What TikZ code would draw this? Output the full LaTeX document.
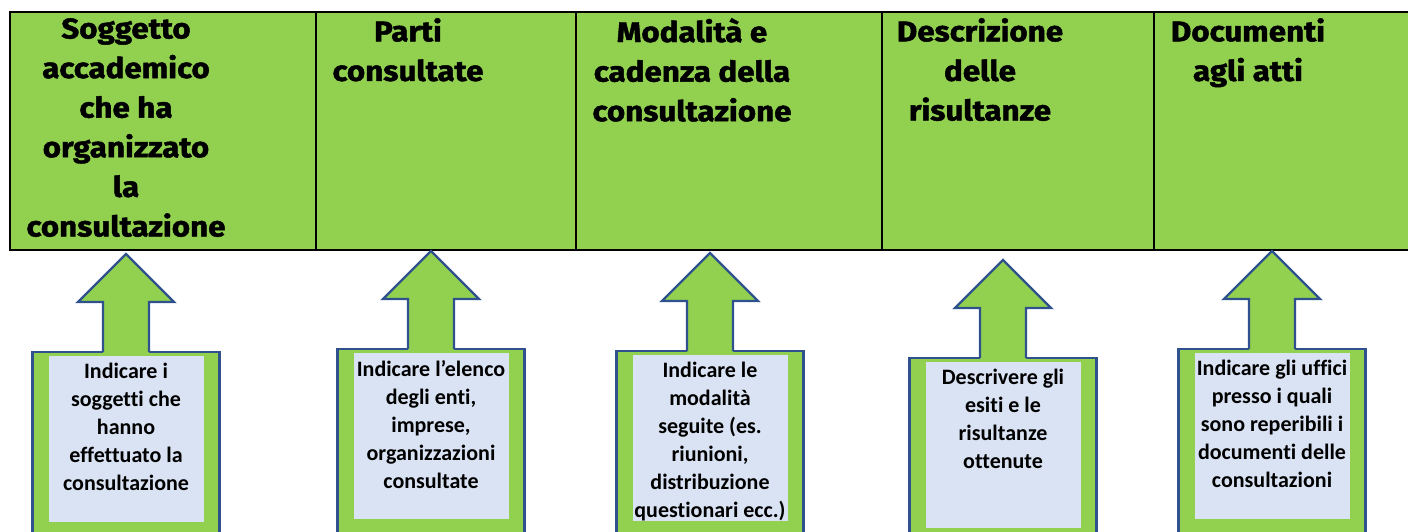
\documentclass[tikz,border=0pt]{standalone}
\usepackage{fontspec}
\setmainfont{Carlito}[Ligatures=NoCommon]
\newfontfamily\headfont[FakeStretch=1.1, BoldFeatures={FakeBold=1.6}]{Fira Sans}
\usetikzlibrary{positioning,calc}
\definecolor{cellgreen}{HTML}{92D050}
\definecolor{edgeblue}{HTML}{2F528F}
\definecolor{noteblue}{HTML}{DAE3F3}
\tikzset{
  cell/.style={draw=black, line width=2.5pt, fill=cellgreen, minimum height=238pt, inner sep=0pt, outer sep=0pt},
  head/.style={font=\headfont\bfseries\fontsize{28.5}{39.6}\selectfont, align=center, inner sep=0pt, anchor=north},
  callout/.style={draw=edgeblue, line width=2.4pt, fill=cellgreen, minimum width=187pt, minimum height=200pt, inner sep=0pt, outer sep=0pt, anchor=north},
  note/.style={fill=noteblue, minimum width=155pt, minimum height=166pt, inner sep=0pt, anchor=north},
  notetext/.style={font=\bfseries\fontsize{22}{28}\selectfont, align=center, inner sep=0pt},
  shaft/.style={draw=edgeblue, line width=2.4pt, line join=miter},
}
% up arrow sitting on top of a callout box
\newcommand{\uparrowon}[1]{%
  \fill[cellgreen] ($(#1.north)+(-23,3)$) -- ++(0,-53) -- ++(-25,0) -- ($(#1.north)+(0,-98)$)
    -- ($(#1.north)+(48,-50)$) -- ++(-25,0) -- ++(0,53) -- cycle;
  \draw[shaft] ($(#1.north)+(-23,0)$) -- ++(0,-50) -- ++(-25,0) -- ($(#1.north)+(0,-98)$)
    -- ($(#1.north)+(48,-50)$) -- ++(-25,0) -- ++(0,50);}

\begin{document}
\begin{tikzpicture}[x=1pt, y=-1pt]
  \useasboundingbox (0,0) rectangle (1408,531);
  \clip (0,0) rectangle (1408,531);
  % header row
  \node[cell, anchor=north west, minimum width=306pt] (c1) at (10,12) {};
  \node[cell, right=0pt of c1, minimum width=260pt] (c2) {};
  \node[cell, right=0pt of c2, minimum width=306pt] (c3) {};
  \node[cell, right=0pt of c3, minimum width=272pt] (c4) {};
  \node[cell, right=0pt of c4, minimum width=270pt] (c5) {};
  \node[head] (h1) at (126,18) {Soggetto\\accademico\\che ha\\organizzato\\la\\consultazione};
  \node[head] (h2) at (408,18) {Parti\\consultate};
  \node[head] (h3) at (692,18) {Modalità e\\cadenza della\\consultazione};
  \node[head] (h4) at (980,18) {Descrizione\\delle\\risultanze};
  \node[head] (h5) at (1248,18) {Documenti\\agli atti};
  % callouts
  \node[callout] (b1) at (126,352) {};
  \node[callout] (b2) at (431,349) {};
  \node[callout] (b3) at (710,351) {};
  \node[callout] (b4) at (1003,358) {};
  \node[callout] (b5) at (1272,349) {};
  \uparrowon{b1}
  \uparrowon{b2}
  \uparrowon{b3}
  \uparrowon{b4}
  \uparrowon{b5}
  % inner notes
  \node[note] (r1) at ($(b1.north)+(0,4)$) {};
  \node[note] (r2) at ($(b2.north)+(0,4)$) {};
  \node[note] (r3) at ($(b3.north)+(0,4)$) {};
  \node[note] (r4) at ($(b4.north)+(0,4)$) {};
  \node[note] (r5) at ($(b5.north)+(0,4)$) {};
  \node[notetext, below=7pt of r1.north] (s1) {Indicare i\\soggetti che\\hanno\\effettuato la\\consultazione};
  \node[notetext, below=7pt of r2.north] (s2) {Indicare l’elenco\\degli enti,\\imprese,\\organizzazioni\\consultate};
  \node[notetext, below=7pt of r3.north] (s3) {Indicare le\\modalità\\seguite (es.\\riunioni,\\distribuzione\\questionari ecc.)};
  \node[notetext, below=7pt of r4.north] (s4) {Descrivere gli\\esiti e le\\risultanze\\ottenute};
  \node[notetext, below=7pt of r5.north] (s5) {Indicare gli uffici\\presso i quali\\sono reperibili i\\documenti delle\\consultazioni};
\end{tikzpicture}
\end{document}
